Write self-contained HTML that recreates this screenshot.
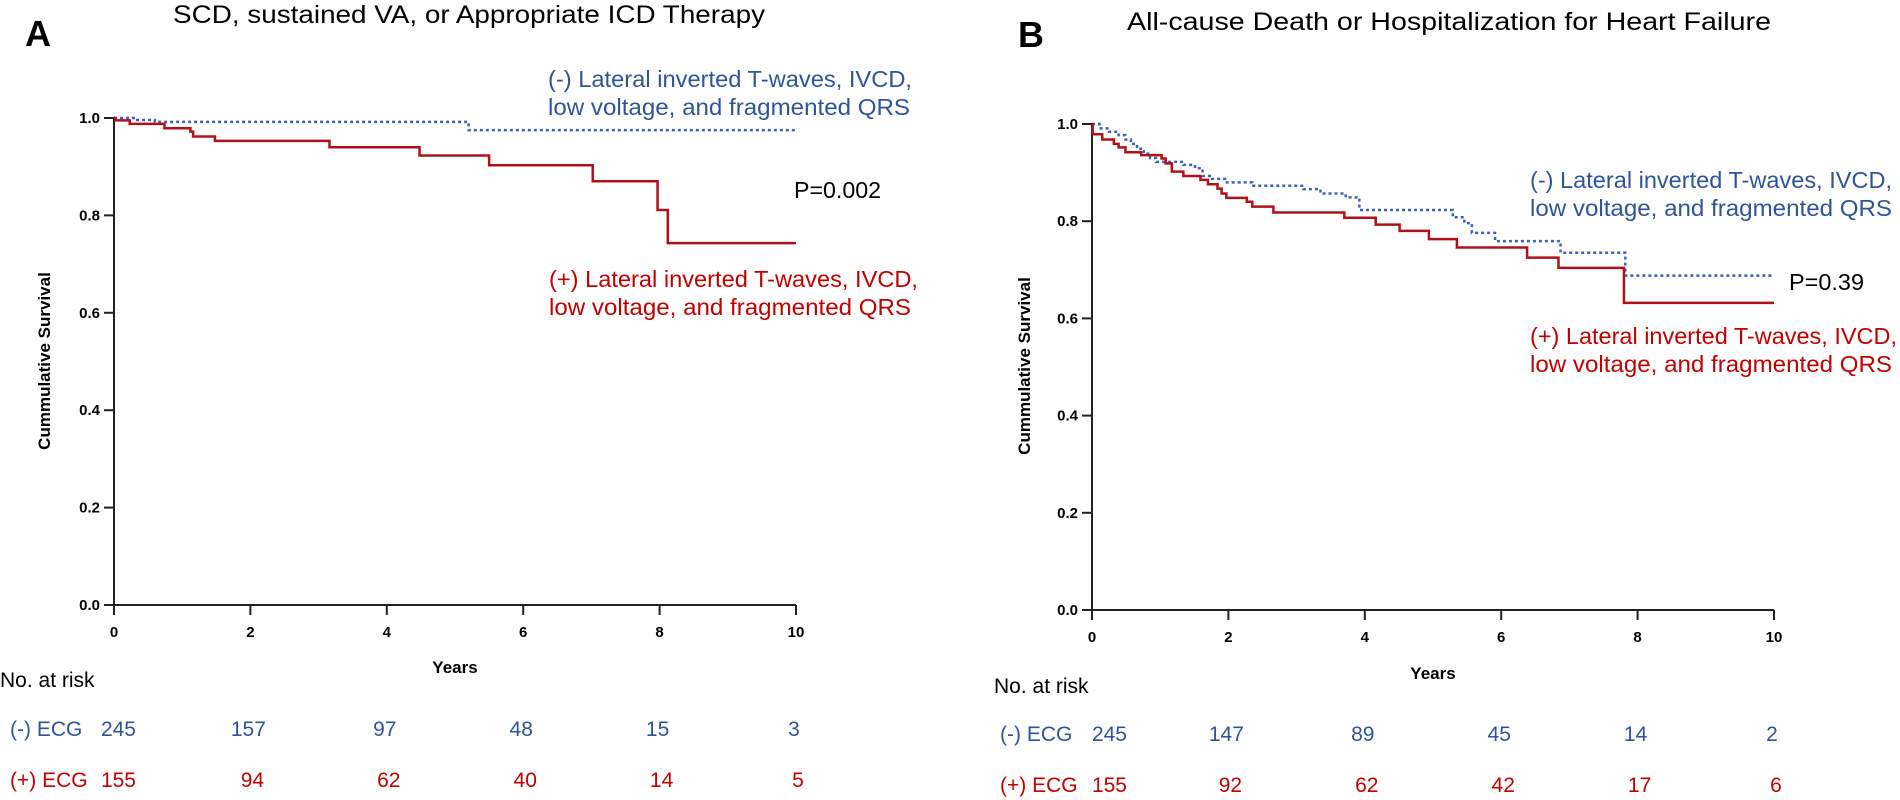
<!DOCTYPE html>
<html><head><meta charset="utf-8">
<style>
html,body{margin:0;padding:0;background:#fff;}
svg{display:block;font-family:"Liberation Sans",sans-serif;}
</style></head>
<body>
<svg id="fig" width="1900" height="800" viewBox="0 0 1900 800" xmlns="http://www.w3.org/2000/svg">
<g id="panelA">
<text x="25" y="46" font-size="36" font-weight="bold">A</text>
<text x="173" y="23" font-size="25" textLength="592" lengthAdjust="spacingAndGlyphs">SCD, sustained VA, or Appropriate ICD Therapy</text>
<text x="548" y="87" font-size="23" fill="#2f5597" textLength="364" lengthAdjust="spacingAndGlyphs">(-) Lateral inverted T-waves, IVCD,</text>
<text x="548" y="115" font-size="23" fill="#2f5597" textLength="362" lengthAdjust="spacingAndGlyphs">low voltage, and fragmented QRS</text>
<text x="794" y="198" font-size="23" textLength="87" lengthAdjust="spacingAndGlyphs">P=0.002</text>
<text x="549" y="287" font-size="23" fill="#c00000" textLength="369" lengthAdjust="spacingAndGlyphs">(+) Lateral inverted T-waves, IVCD,</text>
<text x="549" y="315" font-size="23" fill="#c00000" textLength="362" lengthAdjust="spacingAndGlyphs">low voltage, and fragmented QRS</text>
</g>
<g id="panelB">
<text x="1018" y="47" font-size="36" font-weight="bold">B</text>
<text x="1127" y="30" font-size="25" textLength="644" lengthAdjust="spacingAndGlyphs">All-cause Death or Hospitalization for Heart Failure</text>
<text x="1530" y="188" font-size="23" fill="#2f5597" textLength="362" lengthAdjust="spacingAndGlyphs">(-) Lateral inverted T-waves, IVCD,</text>
<text x="1530" y="216" font-size="23" fill="#2f5597" textLength="362" lengthAdjust="spacingAndGlyphs">low voltage, and fragmented QRS</text>
<text x="1789" y="290" font-size="23" textLength="75" lengthAdjust="spacingAndGlyphs">P=0.39</text>
<text x="1530" y="344" font-size="23" fill="#c00000" textLength="367" lengthAdjust="spacingAndGlyphs">(+) Lateral inverted T-waves, IVCD,</text>
<text x="1530" y="372" font-size="23" fill="#c00000" textLength="362" lengthAdjust="spacingAndGlyphs">low voltage, and fragmented QRS</text>
</g>
</svg>
<script>
// ---- data ----
const xTicks = [0, 2, 4, 6, 8, 10];
const yTicks = [0.0, 0.2, 0.4, 0.6, 0.8, 1.0];
const riskTimes = [0, 2, 4, 6, 8, 10];
// Panel A
const aNegT = [0, 0.34, 0.6, 5.2, 10];
const aNegS = [1.0, 0.996, 0.992, 0.975, 0.975];
const aPosT = [0, 0.02, 0.23, 0.74, 1.12, 1.16, 1.48, 3.16, 4.48, 5.50, 7.02, 7.97, 8.12, 10];
const aPosS = [1.0, 0.995, 0.988, 0.979, 0.972, 0.962, 0.953, 0.940, 0.923, 0.903, 0.870, 0.811, 0.743, 0.743];
const aRiskNeg = [245, 157, 97, 48, 15, 3];
const aRiskPos = [155, 94, 62, 40, 14, 5];
// Panel B
const bNegT = [0, 0.11, 0.25, 0.39, 0.49, 0.57, 0.66, 0.76, 0.85, 0.94, 1.34, 1.51, 1.62, 1.76, 1.95, 2.35, 3.10, 3.35, 3.72, 3.92, 5.29, 5.46, 5.57, 5.91, 6.87, 7.82, 10];
const bNegS = [1.0, 0.991, 0.984, 0.977, 0.968, 0.959, 0.949, 0.939, 0.930, 0.922, 0.916, 0.909, 0.893, 0.887, 0.880, 0.873, 0.866, 0.857, 0.849, 0.823, 0.808, 0.796, 0.776, 0.759, 0.735, 0.688, 0.688];
const bPosT = [0, 0.01, 0.15, 0.32, 0.39, 0.49, 0.72, 1.02, 1.08, 1.17, 1.34, 1.59, 1.70, 1.84, 1.90, 1.97, 2.27, 2.35, 2.66, 3.70, 4.16, 4.51, 4.94, 5.35, 6.38, 6.84, 7.80, 10];
const bPosS = [1.0, 0.979, 0.968, 0.959, 0.952, 0.942, 0.936, 0.929, 0.919, 0.902, 0.893, 0.885, 0.876, 0.867, 0.857, 0.848, 0.840, 0.830, 0.818, 0.807, 0.793, 0.780, 0.763, 0.746, 0.725, 0.704, 0.632, 0.632];
const bRiskNeg = [245, 147, 89, 45, 14, 2];
const bRiskPos = [155, 92, 62, 42, 17, 6];

const NS = "http://www.w3.org/2000/svg";
function mk(parent, tag, attrs, text) {
  const el = document.createElementNS(NS, tag);
  for (const k in attrs) el.setAttribute(k, attrs[k]);
  if (text !== undefined) el.textContent = text;
  parent.appendChild(el);
  return el;
}

function drawPanel(g, cfg) {
  const xs = t => cfg.x0 + (cfg.x1 - cfg.x0) * t / 10;
  const ys = s => cfg.y0 - (cfg.y0 - cfg.y1) * s;
  // axes
  const yAxis = mk(g, "line", {x1: xs(0), y1: ys(0), x2: xs(0), y2: ys(1), stroke: "#222", "stroke-width": 2});
  
  
  const xAxis = mk(g, "line", {x1: xs(0) - 10, y1: ys(0), x2: xs(10), y2: ys(0), stroke: "#222", "stroke-width": 2});
  
  
  yTicks.forEach(v => {
    const tk = mk(g, "line", {x1: xs(0) - 10, y1: ys(v), x2: xs(0), y2: ys(v), stroke: "#222", "stroke-width": 2});
    
    
    const lb = mk(g, "text", {x: xs(0) - 14, y: ys(v) + 5, "font-size": 15, "font-weight": "bold", "text-anchor": "end"}, v.toFixed(1));
    
    
  });
  xTicks.forEach(v => {
    const tk = mk(g, "line", {x1: xs(v), y1: ys(0), x2: xs(v), y2: ys(0) + 10, stroke: "#222", "stroke-width": 2});
    
    
    const lb = mk(g, "text", {x: xs(v), y: ys(0) + 32, "font-size": 15, "font-weight": "bold", "text-anchor": "middle"}, String(v));
    
    
  });
  const xt = mk(g, "text", {x: cfg.yearsX, y: cfg.yearsY, "font-size": 17, "font-weight": "bold", "text-anchor": "middle"}, "Years");
  
  
  const yt = mk(g, "text", {x: 0, y: 0, "font-size": 17, "font-weight": "bold", "text-anchor": "middle", transform: `translate(${cfg.ytX},${cfg.ytY}) rotate(-90)`}, "Cummulative Survival");
  
  
  // curves
  function stepPath(T, S) {
    let d = `M${xs(T[0])},${ys(S[0])}`;
    for (let i = 1; i < T.length; i++) {
      d += ` L${xs(T[i])},${ys(S[i - 1])} L${xs(T[i])},${ys(S[i])}`;
    }
    return d;
  }
  const neg = mk(g, "path", {d: stepPath(cfg.negT, cfg.negS), fill: "none", stroke: "#3a62b8", "stroke-width": 2.5, "stroke-dasharray": "3,3"});
  
  
  const pos = mk(g, "path", {d: stepPath(cfg.posT, cfg.posS), fill: "none", stroke: "#b0101a", "stroke-width": 2.5});
  
  
  // risk table
  const nr = mk(g, "text", {x: cfg.nrX, y: cfg.nrY, "font-size": 21}, "No. at risk");
  
  
  const l1 = mk(g, "text", {x: cfg.rowX, y: cfg.negY, "font-size": 21, fill: "#2f5597"}, "(-) ECG");
  
  
  const l2 = mk(g, "text", {x: cfg.rowX, y: cfg.posY, "font-size": 21, fill: "#c00000"}, "(+) ECG");
  
  
  riskTimes.forEach((t, i) => {
    const anchorX = i === 0 ? cfg.firstEnd : xs(t) + cfg.riskShift;
    const a = mk(g, "text", {x: anchorX, y: cfg.negY, "font-size": 21, fill: "#2f5597", "text-anchor": i === 0 ? "end" : "middle"}, String(cfg.riskNeg[i]));
    
    
    const b = mk(g, "text", {x: anchorX + (i === 0 ? 0 : 4), y: cfg.posY, "font-size": 21, fill: "#c00000", "text-anchor": i === 0 ? "end" : "middle"}, String(cfg.riskPos[i]));
    
    
  });
}

drawPanel(document.getElementById("panelA"), {
  x0: 114, x1: 796, y0: 605, y1: 118,
  yearsX: 455, yearsY: 673, ytX: 50, ytY: 361,
  negT: aNegT, negS: aNegS, posT: aPosT, posS: aPosS,
  nrX: 0, nrY: 687, rowX: 10, negY: 736, posY: 787, firstEnd: 136, riskShift: -2,
  riskNeg: aRiskNeg, riskPos: aRiskPos
});
drawPanel(document.getElementById("panelB"), {
  x0: 1092, x1: 1774, y0: 610, y1: 124,
  yearsX: 1433, yearsY: 679, ytX: 1030, ytY: 366,
  negT: bNegT, negS: bNegS, posT: bPosT, posS: bPosS,
  nrX: 994, nrY: 693, rowX: 1000, negY: 741, posY: 792, firstEnd: 1127, riskShift: -2,
  riskNeg: bRiskNeg, riskPos: bRiskPos
});
</script>
</body></html>
